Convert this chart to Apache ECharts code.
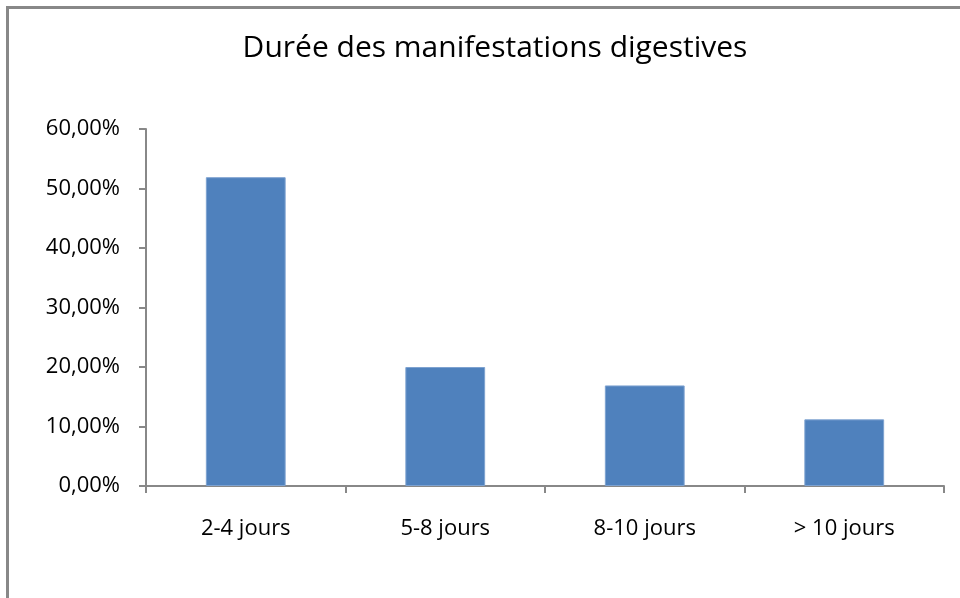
<!DOCTYPE html>
<html>
<head>
<meta charset="utf-8">
<title>Durée des manifestations digestives</title>
<script src="https://cdn.jsdelivr.net/npm/echarts@6/dist/echarts.min.js"></script>
<style>
  html, body { margin: 0; padding: 0; background: #fff; }
  #container { width: 960px; height: 598px; }
</style>
</head>
<body>
<div id="container"></div>
<script>
// données du graphique
var categories = ['2-4 jours', '5-8 jours', '8-10 jours', '> 10 jours'];
var pourcentages = [51.9, 20.0, 16.9, 11.2];
var yMin = 0, yMax = 60, yStep = 10;

var myChart = echarts.init(document.getElementById('container'));
var option = {
    backgroundColor: '#fff',
    title: {
        text: 'Durée des manifestations digestives',
        left: 490,
        textAlign: 'center',
        top: 28,
        textStyle: {
            fontFamily: 'Open Sans',
            fontSize: 30,
            fontWeight: 'normal',
            color: '#000'
        }
    },
    // cadre gris autour du graphique
    graphic: [{
        type: 'rect',
        left: 5,
        top: 5,
        shape: { width: 1000, height: 700 },
        style: { fill: 'none', stroke: '#888', lineWidth: 3 },
        silent: true
    }],
    grid: {
        left: 146,
        right: 16,
        top: 129,
        bottom: 112
    },
    xAxis: {
        type: 'category',
        data: categories,
        axisLine: { lineStyle: { color: '#888', width: 2 } },
        axisTick: { show: true, length: 7, lineStyle: { color: '#888', width: 2 } },
        axisLabel: {
            margin: 32,
            fontFamily: 'Open Sans',
            fontSize: 22,
            color: '#000'
        }
    },
    yAxis: {
        type: 'value',
        min: yMin,
        max: yMax,
        interval: yStep,
        axisLine: { show: true, lineStyle: { color: '#888', width: 2 } },
        axisTick: { show: true, length: 7, lineStyle: { color: '#888', width: 2 } },
        splitLine: { show: false },
        axisLabel: {
            margin: 26,
            fontFamily: 'Open Sans',
            fontSize: 22,
            color: '#000',
            formatter: function (v) {
                return v.toFixed(2).replace('.', ',') + '%';
            }
        }
    },
    series: [{
        type: 'bar',
        data: pourcentages,
        barCategoryGap: '60%',
        itemStyle: {
            color: '#4f81bd',
            borderColor: '#7ea2d0',
            borderWidth: 1
        }
    }]
};
myChart.setOption(option);
</script>
</body>
</html>
